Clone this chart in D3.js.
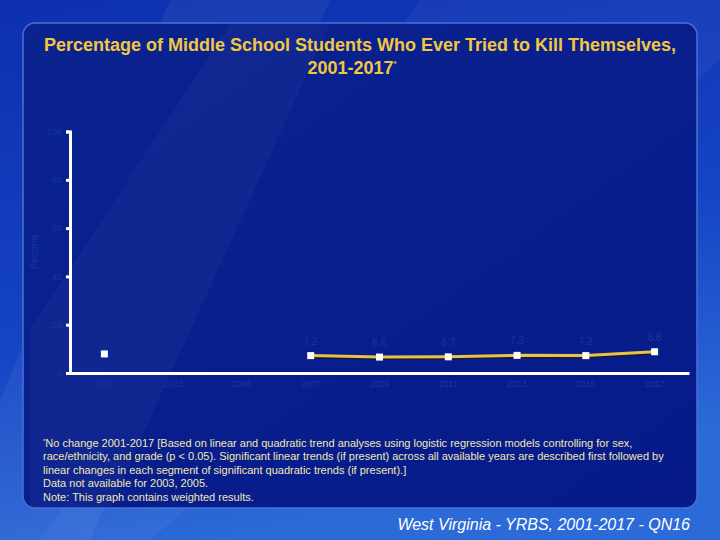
<!DOCTYPE html>
<html>
<head>
<meta charset="utf-8">
<script src="https://cdn.jsdelivr.net/npm/d3@7"></script>
<style>
  body { margin: 0; background: #1540c0; }
  svg { display: block; font-family: Arial, "Liberation Sans", sans-serif; }
</style>
</head>
<body>
<svg id="main" width="720" height="540"></svg>
<script>
// Данные графика
const years = ['2001', '2003', '2005', '2007', '2009', '2011', '2013', '2015', '2017'];
const percents = [7.9, null, null, 7.2, 6.6, 6.7, 7.3, 7.2, 8.8];
const pointLabels = [null, null, null, '7.2', '6.6', '6.7', '7.3', '7.2', '8.8'];
const yTicks = [0, 20, 40, 60, 80, 100];

const footnotes = [
    'No change 2001-2017 [Based on linear and quadratic trend analyses using logistic regression models controlling for sex,',
    'race/ethnicity, and grade (p < 0.05). Significant linear trends (if present) across all available years are described first followed by',
    'linear changes in each segment of significant quadratic trends (if present).]',
    'Data not available for 2003, 2005.',
    'Note: This graph contains weighted results.'
];

const svg = d3.select('svg#main');
const defs = svg.append('defs');

// Фон слайда
const bgGrad = defs.append('linearGradient')
    .attr('id', 'bg-grad').attr('x1', 0).attr('y1', 0).attr('x2', 0.3).attr('y2', 1);
bgGrad.append('stop').attr('offset', '0%').attr('stop-color', '#0c2fae');
bgGrad.append('stop').attr('offset', '60%').attr('stop-color', '#1544c4');
bgGrad.append('stop').attr('offset', '100%').attr('stop-color', '#2c6ad8');

svg.append('rect').attr('width', 720).attr('height', 540).attr('fill', 'url(#bg-grad)');

// Светлые диагональные полосы
svg.append('polygon')
    .attr('points', '170,0 330,0 90,540 0,540 0,400')
    .attr('fill', '#ffffff').attr('opacity', 0.05);
svg.append('polygon')
    .attr('points', '420,0 720,0 720,60 150,540 40,540')
    .attr('fill', '#ffffff').attr('opacity', 0.04);

// Панель
const panelGrad = defs.append('linearGradient')
    .attr('id', 'panel-grad').attr('x1', 0).attr('y1', 0).attr('x2', 1).attr('y2', 1);
panelGrad.append('stop').attr('offset', '0%').attr('stop-color', '#0a238f');
panelGrad.append('stop').attr('offset', '100%').attr('stop-color', '#061a8a');

svg.append('rect')
    .attr('x', 23).attr('y', 23)
    .attr('width', 674).attr('height', 485)
    .attr('rx', 12)
    .attr('fill', 'url(#panel-grad)')
    .attr('stroke', '#4a70d8')
    .attr('stroke-width', 1.5);

// Полоса внутри панели
svg.append('polygon')
    .attr('points', '230,24 330,24 110,507 30,507 30,330')
    .attr('fill', '#ffffff').attr('opacity', 0.03);

// Заголовок
const title = svg.append('text')
    .attr('text-anchor', 'middle')
    .attr('fill', '#f2c740')
    .attr('font-size', 18)
    .attr('font-weight', 'bold');
title.append('tspan').attr('x', 360).attr('y', 51)
    .text('Percentage of Middle School Students Who Ever Tried to Kill Themselves,');
title.append('tspan').attr('x', 352).attr('y', 74).text('2001-2017');
title.append('tspan').attr('font-size', 8).attr('dy', -8).text('*');

// Шкалы
const margin = { left: 70, right: 689, top: 131.5, bottom: 373 };

const x = d3.scaleBand()
    .domain(years)
    .range([margin.left, margin.right]);

const y = d3.scaleLinear()
    .domain([0, 100])
    .range([margin.bottom, margin.top]);

const axisColor = '#1636a2';

// Ось Y
const yAxis = svg.append('g')
    .attr('transform', `translate(${margin.left},0)`)
    .call(d3.axisLeft(y).tickValues(yTicks).tickSize(4).tickPadding(4));
yAxis.select('.domain').attr('stroke', '#ffffff').attr('stroke-width', 3);
yAxis.selectAll('.tick line').attr('stroke', '#ffffff').attr('stroke-width', 3);
yAxis.selectAll('.tick text').attr('fill', axisColor).attr('font-size', 9);

svg.append('text')
    .attr('transform', `translate(38,${y(50)}) rotate(-90)`)
    .attr('text-anchor', 'middle')
    .attr('fill', axisColor)
    .attr('font-size', 10)
    .text('Percent');

// Ось X
const xAxis = svg.append('g')
    .attr('transform', `translate(0,${margin.bottom})`)
    .call(d3.axisBottom(x).tickSize(0).tickPadding(8));
xAxis.select('.domain').attr('stroke', '#ffffff').attr('stroke-width', 3);
xAxis.selectAll('.tick text').attr('fill', axisColor).attr('font-size', 9);

// Данные точек
const points = years.map((yr, i) => ({ year: yr, value: percents[i], label: pointLabels[i] }));
const cx = d => x(d.year) + x.bandwidth() / 2;

const line = d3.line()
    .defined(d => d.value !== null)
    .x(cx)
    .y(d => y(d.value));

// Тень линии
svg.append('path')
    .datum(points)
    .attr('fill', 'none')
    .attr('stroke', '#1a1a30')
    .attr('stroke-width', 3)
    .attr('transform', 'translate(1,1.5)')
    .attr('d', line);

svg.append('path')
    .datum(points)
    .attr('fill', 'none')
    .attr('stroke', '#e8c34a')
    .attr('stroke-width', 3)
    .attr('d', line);

const valid = points.filter(d => d.value !== null);

svg.selectAll('.marker')
    .data(valid)
    .join('rect')
    .attr('class', 'marker')
    .attr('x', d => cx(d) - 3.5)
    .attr('y', d => y(d.value) - 3.5)
    .attr('width', 7)
    .attr('height', 7)
    .attr('fill', '#ffffff');

svg.selectAll('.point-label')
    .data(valid.filter(d => d.label))
    .join('text')
    .attr('class', 'point-label')
    .attr('x', cx)
    .attr('y', d => y(d.value) - 11)
    .attr('text-anchor', 'middle')
    .attr('fill', axisColor)
    .attr('font-size', 10)
    .text(d => d.label);

// Сноски
const notes = svg.append('g').attr('fill', '#f3e7b0').attr('font-size', 11);
footnotes.forEach((t, i) => {
    const txt = notes.append('text').attr('x', 43).attr('y', 447 + i * 13.4);
    if (i === 0) {
        txt.append('tspan').attr('font-size', 6).attr('dy', -4).text('*');
        txt.append('tspan').attr('dy', 4).text(t);
    } else {
        txt.text(t);
    }
});

// Подпись источника
svg.append('text')
    .attr('x', 690).attr('y', 530)
    .attr('text-anchor', 'end')
    .attr('fill', '#ffffff')
    .attr('font-size', 16)
    .attr('font-style', 'italic')
    .text('West Virginia - YRBS, 2001-2017 - QN16');
</script>
</body>
</html>
